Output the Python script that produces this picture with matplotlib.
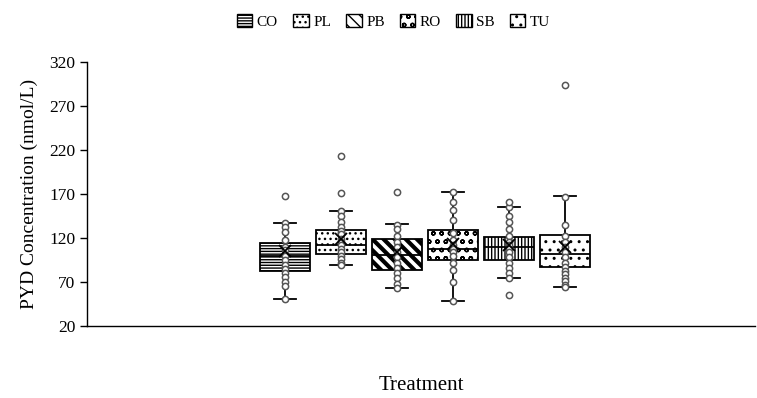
import numpy as np
import matplotlib
matplotlib.use('Agg')
import matplotlib.pyplot as plt
from matplotlib.patches import Patch

plt.rcParams['font.family'] = ['Liberation Serif', 'DejaVu Serif']
plt.rcParams['hatch.linewidth'] = 1.0

# ── Data ──
groups = ['CO', 'PL', 'PB', 'RO', 'SB', 'TU']
q1     = [82, 101.5, 84, 95, 95, 87]
med    = [100, 112, 101, 108, 110, 102]
q3     = [114.5, 129, 118.5, 129, 121.5, 123]
wlo    = [51, 89, 63, 48, 74, 64]
whi    = [137, 151, 135.5, 172.5, 155, 167.5]
means  = [105, 119, 104, 113, 112, 110]
points = [
    [137, 132, 127, 118, 110, 106, 100, 95, 89, 85, 80, 76, 70, 66, 51],
    [151, 145, 138, 133, 128, 124, 119, 115, 112, 108, 104, 100, 96, 92, 89],
    [135, 130, 122, 116, 110, 104, 98, 92, 86, 80, 74, 68, 63],
    [172, 161, 152, 140, 126, 118, 112, 108, 104, 99, 92, 84, 70, 48],
    [155, 145, 138, 130, 122, 116, 112, 108, 104, 98, 92, 86, 80, 74],
    [167, 135, 122, 115, 110, 104, 98, 92, 87, 83, 79, 75, 71, 67, 64],
]
outliers = [[168], [213, 171], [172.5], [], [161, 55], [294]]
hatches = ['------', '...', '\\\\\\', 'oo', '|||||', '..']

fig = plt.figure(figsize=(7.57, 3.98), dpi=100)
ax = fig.add_axes([0.115, 0.181, 0.882, 0.663])

pos = np.arange(len(groups))
stats = [{'q1': q1[i], 'med': med[i], 'q3': q3[i], 'whislo': wlo[i],
          'whishi': whi[i], 'mean': means[i], 'fliers': []} for i in range(len(groups))]
bp = ax.bxp(stats, positions=pos, widths=0.9, capwidths=0.4, patch_artist=True,
            showfliers=False, showmeans=False,
            boxprops=dict(facecolor='white', edgecolor='black', linewidth=1.3),
            medianprops=dict(color='black', linewidth=1.3),
            whiskerprops=dict(color='black', linewidth=1.3),
            capprops=dict(color='black', linewidth=1.3))
for box, h in zip(bp['boxes'], hatches):
    box.set_hatch(h)
    if h.startswith('\\') and hasattr(box, 'set_hatch_linewidth'):
        box.set_hatch_linewidth(3.0)
for m in bp['medians']:
    m.set_zorder(3)

for i in range(len(groups)):
    pts = points[i] + outliers[i]
    ax.plot([pos[i]] * len(pts), pts, 'o', ms=4.5, mfc='white', mec='#555555',
            mew=1.1, zorder=4, clip_on=False)
    ax.plot(pos[i], means[i], 'x', ms=8, color='black', mew=1.3, zorder=5)

ax.set_xlim(-3.54, 8.39)
ax.set_ylim(20, 320)
ax.set_yticks(np.arange(20, 321, 50))
ax.set_xticks([])
ax.spines['top'].set_visible(False)
ax.spines['right'].set_visible(False)
ax.spines['left'].set_linewidth(1.0)
ax.spines['bottom'].set_linewidth(1.0)
ax.tick_params(axis='y', labelsize=12.5, length=5, width=1.0)
ax.set_ylabel('PYD Concentration (nmol/L)', fontsize=14, labelpad=8)
ax.set_xlabel('Treatment', fontsize=15, labelpad=36)

handles = [Patch(facecolor='white', edgecolor='black', hatch=h, label=g)
           for g, h in zip(groups, hatches)]
fig.legend(handles=handles, loc='upper center', bbox_to_anchor=(0.52, 1.0), ncol=6,
           frameon=False, fontsize=11, handlelength=1.0, handleheight=1.0,
           handletextpad=0.3, columnspacing=1.0)

plt.savefig('out.png', dpi=100)
